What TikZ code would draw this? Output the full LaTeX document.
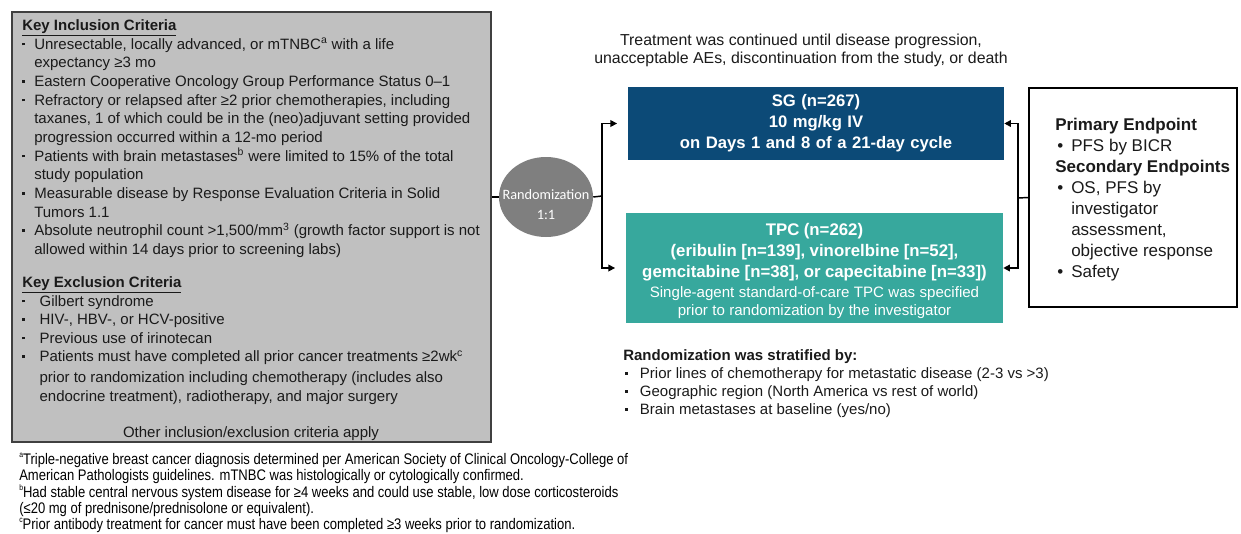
\documentclass[tikz,border=0pt]{standalone}
\usepackage{fontspec}
\setmainfont{Liberation Sans}
\newfontfamily\narrowfont[FakeStretch=0.85]{Liberation Sans}
\newfontfamily\calfont{Carlito}
\usetikzlibrary{arrows.meta,shapes.geometric}
\definecolor{boxgray}{HTML}{C0C0C0}
\definecolor{boxedge}{HTML}{404040}
\definecolor{sgblue}{HTML}{0C4A77}
\definecolor{tpcteal}{HTML}{37A89D}
\definecolor{randgray}{HTML}{7F7F7F}
\definecolor{txt}{HTML}{1A1A1A}
\newcommand{\sqb}[1]{\makebox[#1pt][l]{\raisebox{0.25em}{\rule{2pt}{2pt}}}}
\newcommand{\rbul}[1]{\makebox[#1pt][l]{\textbullet}}
\newcommand{\ind}[1]{\hspace*{#1pt}}
\newcommand{\fnm}[1]{\raisebox{0.45em}{\fontsize{6}{6}\selectfont #1}}
\tikzset{
  conn/.style={line width=1.1pt, black},
  arr/.style={conn, -{Triangle[length=5pt,width=5pt]}},
  textblock/.style={anchor=base west, align=left, inner sep=0pt, text=txt},
  armbox/.style={rectangle, inner sep=0pt, text=white, align=center},
}
\begin{document}
\begin{tikzpicture}[x=0.75pt,y=-0.75pt]
\useasboundingbox (0,0) rectangle (1241,533);
% left criteria box
\node[rectangle, draw=boxedge, line width=1.5pt, fill=boxgray, minimum width=359.25pt, minimum height=322.5pt, inner sep=0pt] (lbox) at (251.5,227) {};
\node[textblock, font=\fontsize{11.25}{14}\selectfont] (incl) at (22,254.5) {%
\textbf{\underline{Key Inclusion Criteria}}\\
\sqb{9}Unresectable, locally advanced, or mTNBC\textsuperscript{a} with a life\\
\ind{9}expectancy ≥3 mo\\
\sqb{9}Eastern Cooperative Oncology Group Performance Status 0–1\\
\sqb{9}Refractory or relapsed after ≥2 prior chemotherapies, including\\
\ind{9}taxanes, 1 of which could be in the (neo)adjuvant setting provided\\
\ind{9}progression occurred within a 12-mo period\\
\sqb{9}Patients with brain metastases\textsuperscript{b} were limited to 15\% of the total\\
\ind{9}study population\\
\sqb{9}Measurable disease by Response Evaluation Criteria in Solid\\
\ind{9}Tumors 1.1\\
\sqb{9}Absolute neutrophil count >1,500/mm\textsuperscript{3} (growth factor support is not\\
\ind{9}allowed within 14 days prior to screening labs)};
\node[textblock, font=\fontsize{11.25}{13.9}\selectfont] (excl) at (22,401.5) {%
\textbf{\underline{Key Exclusion Criteria}}\\
\sqb{13}Gilbert syndrome\\
\sqb{13}HIV-, HBV-, or HCV-positive\\
\sqb{13}Previous use of irinotecan\\
\sqb{13}Patients must have completed all prior cancer treatments ≥2wk\textsuperscript{c}\\[2pt]
\ind{13}prior to randomization including chemotherapy (includes also\\
\ind{13}endocrine treatment), radiotherapy, and major surgery};
\node[anchor=base, inner sep=0pt, text=txt, font=\fontsize{11.25}{14}\selectfont] (other) at (251,437.5) {Other inclusion/exclusion criteria apply};
% randomization
\node[ellipse, fill=randgray, minimum width=70.5pt, minimum height=60pt, inner sep=0pt] (rand) at (546,197) {};
\node[align=center, text=white, inner sep=0pt, font=\calfont\fontsize{10.7}{15}\selectfont] (randtxt) at (546,205) {Randomization\\1:1};
% treatment note
\node[align=center, inner sep=0pt, text=txt, font=\fontsize{11.9}{13.5}\selectfont] (note) at (801,50) {Treatment was continued until disease progression,\\unacceptable AEs, discontinuation from the study, or death};
% arms
\node[armbox, fill=sgblue, text width=282pt, minimum height=54.75pt, font=\bfseries\fontsize{12.5}{15.75}\selectfont] (sg) at (816,123.5) {SG (n=267)\\10 mg/kg IV\\on Days 1 and 8 of a 21-day cycle};
\node[armbox, fill=tpcteal, minimum width=282.75pt, minimum height=82.5pt] (tpc) at (814.5,268) {};
\node[armbox, text width=282.75pt] (tpctxt) at (814.5,271) {%
{\bfseries\fontsize{12.6}{15.75}\selectfont TPC (n=262)\\(eribulin [n=139], vinorelbine [n=52],\\gemcitabine [n=38], or capecitabine [n=33])\par}\vspace{2.2pt}%
{\fontsize{11.3}{13.5}\selectfont Single-agent standard-of-care TPC was specified\\prior to randomization by the investigator\par}};
% endpoints box
\node[rectangle, draw=black, line width=1.1pt, minimum width=156pt, minimum height=164.25pt, inner sep=0pt] (ep) at (1133,197.5) {};
\node[textblock, font=\fontsize{12.75}{15.75}\selectfont] (eptxt) at (1055,277) {%
\textbf{Primary Endpoint}\\
\ind{1.5}\rbul{10.5}PFS by BICR\\
\textbf{Secondary Endpoints}\\
\ind{1.5}\rbul{10.5}OS, PFS by\\
\ind{12}investigator\\
\ind{12}assessment,\\
\ind{12}objective response\\
\ind{1.5}\rbul{10.5}Safety};
% stratification
\node[textblock, font=\fontsize{11.25}{13.5}\selectfont] (strat) at (623,414.5) {%
\textbf{Randomization was stratified by:}\\
\ind{1.5}\sqb{11}Prior lines of chemotherapy for metastatic disease (2-3 vs >3)\\
\ind{1.5}\sqb{11}Geographic region (North America vs rest of world)\\
\ind{1.5}\sqb{11}Brain metastases at baseline (yes/no)};
% footnotes
\node[textblock, text=black, font=\narrowfont\fontsize{11.5}{11.8}\selectfont] (fn) at (19,529) {%
\fnm{a}Triple-negative breast cancer diagnosis determined per American Society of Clinical Oncology-College of\\
American Pathologists guidelines. mTNBC was histologically or cytologically confirmed.\\
\fnm{b}Had stable central nervous system disease for ≥4 weeks and could use stable, low dose corticosteroids\\
(≤20 mg of prednisone/prednisolone or equivalent).\\
\fnm{c}Prior antibody treatment for cancer must have been completed ≥3 weeks prior to randomization.};
% connectors
\draw[conn] (rand.west) -- (rand.west -| lbox.east);
\coordinate (split) at (602,196);
\draw[conn] (rand.east) -- (split);
\draw[arr, shorten >=8pt] (split) |- (sg.west);
\draw[arr, shorten >=8pt] (split) |- (tpc.west);
\coordinate (join) at (1018,198);
\draw[conn] (ep.west) -- (join);
\draw[arr] (join) |- (sg.east);
\draw[arr] (join) |- (tpc.east);
\end{tikzpicture}
\end{document}
